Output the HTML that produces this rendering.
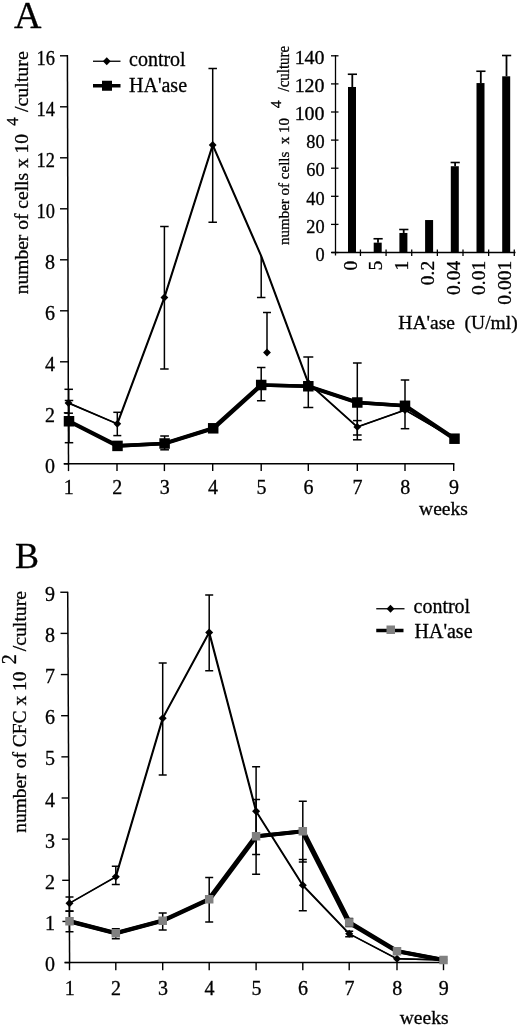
<!DOCTYPE html>
<html><head><meta charset="utf-8"><title>Figure</title>
<style>
html,body{margin:0;padding:0;background:#fff;}
svg{display:block;}
text{font-family:"Liberation Serif", "DejaVu Serif", serif;fill:#000;stroke:#000;stroke-width:0.3px;}
</style></head><body>
<svg width="520" height="1026" viewBox="0 0 520 1026">
<rect width="520" height="1026" fill="#fff"/>
<line x1="67.40" y1="55.10" x2="68.50" y2="464.40" stroke="#000" stroke-width="1.5"/>
<line x1="63.80" y1="463.80" x2="454.40" y2="463.80" stroke="#000" stroke-width="1.5"/>
<line x1="63.80" y1="463.80" x2="68.50" y2="463.80" stroke="#000" stroke-width="1.4"/>
<text x="54.90" y="472.50" font-size="20" text-anchor="end">0</text>
<line x1="63.80" y1="412.80" x2="68.36" y2="412.80" stroke="#000" stroke-width="1.4"/>
<text x="54.90" y="421.50" font-size="20" text-anchor="end">2</text>
<line x1="60.00" y1="361.80" x2="68.23" y2="361.80" stroke="#000" stroke-width="1.4"/>
<text x="54.90" y="370.50" font-size="20" text-anchor="end">4</text>
<line x1="60.00" y1="310.80" x2="68.09" y2="310.80" stroke="#000" stroke-width="1.4"/>
<text x="54.90" y="319.50" font-size="20" text-anchor="end">6</text>
<line x1="60.00" y1="259.80" x2="67.95" y2="259.80" stroke="#000" stroke-width="1.4"/>
<text x="54.90" y="268.50" font-size="20" text-anchor="end">8</text>
<line x1="60.00" y1="208.80" x2="67.81" y2="208.80" stroke="#000" stroke-width="1.4"/>
<text font-size="20" text-anchor="end" transform="translate(54.9 217.50) scale(0.92 1)">10</text>
<line x1="60.00" y1="157.80" x2="67.68" y2="157.80" stroke="#000" stroke-width="1.4"/>
<text font-size="20" text-anchor="end" transform="translate(54.9 166.50) scale(0.92 1)">12</text>
<line x1="60.00" y1="106.80" x2="67.54" y2="106.80" stroke="#000" stroke-width="1.4"/>
<text font-size="20" text-anchor="end" transform="translate(54.9 115.50) scale(0.92 1)">14</text>
<line x1="60.00" y1="55.80" x2="67.40" y2="55.80" stroke="#000" stroke-width="1.4"/>
<text font-size="20" text-anchor="end" transform="translate(54.9 64.50) scale(0.92 1)">16</text>
<line x1="68.50" y1="463.80" x2="68.50" y2="471.10" stroke="#000" stroke-width="1.4"/>
<text x="68.80" y="494.30" font-size="20" text-anchor="middle">1</text>
<line x1="117.00" y1="463.80" x2="117.00" y2="471.10" stroke="#000" stroke-width="1.4"/>
<text x="117.30" y="494.30" font-size="20" text-anchor="middle">2</text>
<line x1="164.40" y1="463.80" x2="164.40" y2="471.10" stroke="#000" stroke-width="1.4"/>
<text x="164.70" y="494.30" font-size="20" text-anchor="middle">3</text>
<line x1="212.70" y1="463.80" x2="212.70" y2="471.10" stroke="#000" stroke-width="1.4"/>
<text x="213.00" y="494.30" font-size="20" text-anchor="middle">4</text>
<line x1="261.20" y1="463.80" x2="261.20" y2="471.10" stroke="#000" stroke-width="1.4"/>
<text x="261.50" y="494.30" font-size="20" text-anchor="middle">5</text>
<line x1="308.30" y1="463.80" x2="308.30" y2="471.10" stroke="#000" stroke-width="1.4"/>
<text x="308.60" y="494.30" font-size="20" text-anchor="middle">6</text>
<line x1="357.30" y1="463.80" x2="357.30" y2="471.10" stroke="#000" stroke-width="1.4"/>
<text x="357.60" y="494.30" font-size="20" text-anchor="middle">7</text>
<line x1="405.00" y1="463.80" x2="405.00" y2="471.10" stroke="#000" stroke-width="1.4"/>
<text x="405.30" y="494.30" font-size="20" text-anchor="middle">8</text>
<line x1="453.70" y1="463.80" x2="453.70" y2="471.10" stroke="#000" stroke-width="1.4"/>
<text x="454.00" y="494.30" font-size="20" text-anchor="middle">9</text>
<text x="467.80" y="515.20" font-size="19.5" text-anchor="end">weeks</text>
<text x="14.00" y="28.00" font-size="38" text-anchor="start">A</text>
<text x="28.20" y="294.20" font-size="19.5" text-anchor="start" transform="rotate(-90 28.20 294.20)">number of cells x 10</text>
<text x="17.60" y="125.80" font-size="16.5" text-anchor="start" transform="rotate(-90 17.60 125.80)">4</text>
<text x="28.20" y="112.00" font-size="19.5" text-anchor="start" transform="rotate(-90 28.20 112.00)" textLength="60.8" lengthAdjust="spacingAndGlyphs">/culture</text>
<line x1="93.00" y1="61.25" x2="120.50" y2="61.25" stroke="#000" stroke-width="1.3"/>
<polygon points="102.85,61.25 106.75,57.35 110.65,61.25 106.75,65.15" fill="#000"/>
<line x1="93.00" y1="85.75" x2="120.50" y2="85.75" stroke="#000" stroke-width="3.5"/>
<rect x="102.00" y="80.75" width="10" height="10" fill="#000"/>
<text x="129.00" y="66.00" font-size="20" text-anchor="start">control</text>
<text x="129.00" y="91.50" font-size="20" text-anchor="start">HA'ase</text>
<line x1="68.70" y1="389.30" x2="68.70" y2="413.20" stroke="#000" stroke-width="1.5"/>
<line x1="64.45" y1="389.30" x2="72.95" y2="389.30" stroke="#000" stroke-width="1.5"/>
<line x1="64.45" y1="413.20" x2="72.95" y2="413.20" stroke="#000" stroke-width="1.5"/>
<line x1="117.30" y1="412.30" x2="117.30" y2="435.60" stroke="#000" stroke-width="1.5"/>
<line x1="113.30" y1="412.30" x2="121.30" y2="412.30" stroke="#000" stroke-width="1.5"/>
<line x1="113.30" y1="435.60" x2="121.30" y2="435.60" stroke="#000" stroke-width="1.5"/>
<line x1="164.40" y1="226.50" x2="164.40" y2="369.00" stroke="#000" stroke-width="1.5"/>
<line x1="160.15" y1="226.50" x2="168.65" y2="226.50" stroke="#000" stroke-width="1.5"/>
<line x1="160.15" y1="369.00" x2="168.65" y2="369.00" stroke="#000" stroke-width="1.5"/>
<line x1="212.70" y1="68.50" x2="212.70" y2="222.25" stroke="#000" stroke-width="1.5"/>
<line x1="208.45" y1="68.50" x2="216.95" y2="68.50" stroke="#000" stroke-width="1.5"/>
<line x1="208.45" y1="222.25" x2="216.95" y2="222.25" stroke="#000" stroke-width="1.5"/>
<line x1="261.20" y1="256.00" x2="261.20" y2="297.50" stroke="#000" stroke-width="1.5"/>
<line x1="256.95" y1="297.50" x2="265.45" y2="297.50" stroke="#000" stroke-width="1.5"/>
<line x1="357.30" y1="420.60" x2="357.30" y2="435.00" stroke="#000" stroke-width="1.5"/>
<line x1="352.95" y1="420.60" x2="361.65" y2="420.60" stroke="#000" stroke-width="1.5"/>
<line x1="352.95" y1="435.00" x2="361.65" y2="435.00" stroke="#000" stroke-width="1.5"/>
<line x1="267.00" y1="312.50" x2="267.00" y2="352.50" stroke="#000" stroke-width="1.5"/>
<line x1="263.00" y1="312.50" x2="271.00" y2="312.50" stroke="#000" stroke-width="1.5"/>
<line x1="69.00" y1="400.50" x2="69.00" y2="442.70" stroke="#000" stroke-width="1.5"/>
<line x1="64.75" y1="400.50" x2="73.25" y2="400.50" stroke="#000" stroke-width="1.5"/>
<line x1="64.75" y1="442.70" x2="73.25" y2="442.70" stroke="#000" stroke-width="1.5"/>
<line x1="164.60" y1="436.00" x2="164.60" y2="449.80" stroke="#000" stroke-width="1.5"/>
<line x1="160.25" y1="436.00" x2="168.95" y2="436.00" stroke="#000" stroke-width="1.5"/>
<line x1="160.25" y1="449.80" x2="168.95" y2="449.80" stroke="#000" stroke-width="1.5"/>
<line x1="261.20" y1="367.50" x2="261.20" y2="400.75" stroke="#000" stroke-width="1.5"/>
<line x1="256.95" y1="367.50" x2="265.45" y2="367.50" stroke="#000" stroke-width="1.5"/>
<line x1="256.95" y1="400.75" x2="265.45" y2="400.75" stroke="#000" stroke-width="1.5"/>
<line x1="308.30" y1="357.00" x2="308.30" y2="407.50" stroke="#000" stroke-width="1.5"/>
<line x1="303.30" y1="357.00" x2="313.30" y2="357.00" stroke="#000" stroke-width="1.5"/>
<line x1="303.30" y1="407.50" x2="313.30" y2="407.50" stroke="#000" stroke-width="1.5"/>
<line x1="357.30" y1="363.00" x2="357.30" y2="439.80" stroke="#000" stroke-width="1.5"/>
<line x1="352.95" y1="363.00" x2="361.65" y2="363.00" stroke="#000" stroke-width="1.5"/>
<line x1="352.95" y1="439.80" x2="361.65" y2="439.80" stroke="#000" stroke-width="1.5"/>
<line x1="405.00" y1="380.00" x2="405.00" y2="428.70" stroke="#000" stroke-width="1.5"/>
<line x1="400.75" y1="380.00" x2="409.25" y2="380.00" stroke="#000" stroke-width="1.5"/>
<line x1="400.75" y1="428.70" x2="409.25" y2="428.70" stroke="#000" stroke-width="1.5"/>
<polyline points="68.15,403.00 116.95,423.80 164.05,297.50 212.35,145.00 260.85,256.00 307.95,383.00 356.95,426.90 404.65,410.00 454.15,438.70" fill="none" stroke="#000" stroke-width="1.4" stroke-linejoin="miter"/>
<polyline points="68.85,403.00 117.65,423.80 164.75,297.50 213.05,145.00 261.55,256.00 308.65,383.00 357.65,426.90 405.35,410.00 454.85,438.70" fill="none" stroke="#000" stroke-width="1.4" stroke-linejoin="miter"/>
<polyline points="68.30,421.25 116.80,445.90 163.90,443.50 212.50,428.30 260.50,385.00 307.60,386.25 356.60,402.50 404.30,405.80 453.80,438.70" fill="none" stroke="#000" stroke-width="3.6" stroke-linejoin="miter"/>
<polyline points="69.70,421.25 118.20,445.90 165.30,443.50 213.90,428.30 261.90,385.00 309.00,386.25 358.00,402.50 405.70,405.80 455.20,438.70" fill="none" stroke="#000" stroke-width="3.6" stroke-linejoin="miter"/>
<polygon points="64.60,403.00 68.50,399.10 72.40,403.00 68.50,406.90" fill="#000"/>
<polygon points="113.40,423.80 117.30,419.90 121.20,423.80 117.30,427.70" fill="#000"/>
<polygon points="160.50,297.50 164.40,293.60 168.30,297.50 164.40,301.40" fill="#000"/>
<polygon points="208.80,145.00 212.70,141.10 216.60,145.00 212.70,148.90" fill="#000"/>
<polygon points="304.40,383.00 308.30,379.10 312.20,383.00 308.30,386.90" fill="#000"/>
<polygon points="353.40,426.90 357.30,423.00 361.20,426.90 357.30,430.80" fill="#000"/>
<polygon points="401.10,410.00 405.00,406.10 408.90,410.00 405.00,413.90" fill="#000"/>
<polygon points="450.60,438.70 454.50,434.80 458.40,438.70 454.50,442.60" fill="#000"/>
<polygon points="263.10,352.50 267.00,348.60 270.90,352.50 267.00,356.40" fill="#000"/>
<rect x="63.75" y="416.00" width="10.5" height="10.5" fill="#000"/>
<rect x="112.25" y="440.65" width="10.5" height="10.5" fill="#000"/>
<rect x="159.35" y="438.25" width="10.5" height="10.5" fill="#000"/>
<rect x="207.95" y="423.05" width="10.5" height="10.5" fill="#000"/>
<rect x="255.95" y="379.75" width="10.5" height="10.5" fill="#000"/>
<rect x="303.05" y="381.00" width="10.5" height="10.5" fill="#000"/>
<rect x="352.05" y="397.25" width="10.5" height="10.5" fill="#000"/>
<rect x="399.75" y="400.55" width="10.5" height="10.5" fill="#000"/>
<rect x="449.25" y="433.45" width="10.5" height="10.5" fill="#000"/>
<line x1="335.50" y1="55.00" x2="335.50" y2="255.50" stroke="#000" stroke-width="1.3"/>
<line x1="331.50" y1="252.50" x2="515.50" y2="252.50" stroke="#000" stroke-width="1.3"/>
<line x1="331.00" y1="252.50" x2="338.50" y2="252.50" stroke="#000" stroke-width="1.3"/>
<text font-size="18.5" text-anchor="end" transform="translate(324.6 260.70) scale(0.99 1)">0</text>
<line x1="331.00" y1="224.40" x2="338.50" y2="224.40" stroke="#000" stroke-width="1.3"/>
<text font-size="18.5" text-anchor="end" transform="translate(324.6 232.60) scale(0.99 1)">20</text>
<line x1="331.00" y1="196.30" x2="338.50" y2="196.30" stroke="#000" stroke-width="1.3"/>
<text font-size="18.5" text-anchor="end" transform="translate(324.6 204.50) scale(0.99 1)">40</text>
<line x1="331.00" y1="168.20" x2="338.50" y2="168.20" stroke="#000" stroke-width="1.3"/>
<text font-size="18.5" text-anchor="end" transform="translate(324.6 176.40) scale(0.99 1)">60</text>
<line x1="331.00" y1="140.10" x2="338.50" y2="140.10" stroke="#000" stroke-width="1.3"/>
<text font-size="18.5" text-anchor="end" transform="translate(324.6 148.30) scale(0.99 1)">80</text>
<line x1="331.00" y1="112.00" x2="338.50" y2="112.00" stroke="#000" stroke-width="1.3"/>
<text font-size="18.5" text-anchor="end" transform="translate(324.6 120.20) scale(1.08 1)">100</text>
<line x1="331.00" y1="83.90" x2="338.50" y2="83.90" stroke="#000" stroke-width="1.3"/>
<text font-size="18.5" text-anchor="end" transform="translate(324.6 92.10) scale(1.08 1)">120</text>
<line x1="331.00" y1="55.80" x2="338.50" y2="55.80" stroke="#000" stroke-width="1.3"/>
<text font-size="18.5" text-anchor="end" transform="translate(324.6 64.00) scale(1.08 1)">140</text>
<line x1="360.44" y1="249.50" x2="360.44" y2="256.00" stroke="#000" stroke-width="1.3"/>
<line x1="386.08" y1="249.50" x2="386.08" y2="256.00" stroke="#000" stroke-width="1.3"/>
<line x1="411.72" y1="249.50" x2="411.72" y2="256.00" stroke="#000" stroke-width="1.3"/>
<line x1="437.36" y1="249.50" x2="437.36" y2="256.00" stroke="#000" stroke-width="1.3"/>
<line x1="463.00" y1="249.50" x2="463.00" y2="256.00" stroke="#000" stroke-width="1.3"/>
<line x1="488.64" y1="249.50" x2="488.64" y2="256.00" stroke="#000" stroke-width="1.3"/>
<line x1="514.28" y1="249.50" x2="514.28" y2="256.00" stroke="#000" stroke-width="1.3"/>
<rect x="348.00" y="86.99" width="8" height="165.51" fill="#000"/>
<line x1="352.30" y1="74.25" x2="352.30" y2="86.99" stroke="#000" stroke-width="1.8"/>
<line x1="347.80" y1="74.25" x2="357.00" y2="74.25" stroke="#000" stroke-width="1.6"/>
<text x="356.80" y="260.80" font-size="19.5" text-anchor="end" transform="rotate(-90 356.80 260.80)">0</text>
<rect x="373.70" y="242.66" width="8" height="9.84" fill="#000"/>
<line x1="378.00" y1="238.75" x2="378.00" y2="242.66" stroke="#000" stroke-width="1.8"/>
<line x1="373.50" y1="238.75" x2="382.70" y2="238.75" stroke="#000" stroke-width="1.6"/>
<text x="382.50" y="260.80" font-size="19.5" text-anchor="end" transform="rotate(-90 382.50 260.80)">5</text>
<rect x="399.40" y="232.97" width="8" height="19.53" fill="#000"/>
<line x1="403.70" y1="229.50" x2="403.70" y2="232.97" stroke="#000" stroke-width="1.8"/>
<line x1="399.20" y1="229.50" x2="408.40" y2="229.50" stroke="#000" stroke-width="1.6"/>
<text x="408.20" y="260.80" font-size="19.5" text-anchor="end" transform="rotate(-90 408.20 260.80)">1</text>
<rect x="425.10" y="220.04" width="8" height="32.46" fill="#000"/>
<text x="433.90" y="260.80" font-size="19.5" text-anchor="end" transform="rotate(-90 433.90 260.80)">0.2</text>
<rect x="450.80" y="166.23" width="8" height="86.27" fill="#000"/>
<line x1="455.10" y1="162.50" x2="455.10" y2="166.23" stroke="#000" stroke-width="1.8"/>
<line x1="450.60" y1="162.50" x2="459.80" y2="162.50" stroke="#000" stroke-width="1.6"/>
<text x="459.60" y="260.80" font-size="19.5" text-anchor="end" transform="rotate(-90 459.60 260.80)">0.04</text>
<rect x="476.50" y="83.06" width="8" height="169.44" fill="#000"/>
<line x1="480.80" y1="71.25" x2="480.80" y2="83.06" stroke="#000" stroke-width="1.8"/>
<line x1="476.30" y1="71.25" x2="485.50" y2="71.25" stroke="#000" stroke-width="1.6"/>
<text x="485.30" y="260.80" font-size="19.5" text-anchor="end" transform="rotate(-90 485.30 260.80)">0.01</text>
<rect x="502.20" y="76.31" width="8" height="176.19" fill="#000"/>
<line x1="506.50" y1="55.50" x2="506.50" y2="76.31" stroke="#000" stroke-width="1.8"/>
<line x1="502.00" y1="55.50" x2="511.20" y2="55.50" stroke="#000" stroke-width="1.6"/>
<text x="511.00" y="260.80" font-size="19.5" text-anchor="end" transform="rotate(-90 511.00 260.80)">0.001</text>
<text x="398.30" y="328.60" font-size="19.5" text-anchor="start" xml:space="preserve">HA'ase  (U/ml)</text>
<text x="289.00" y="245.00" font-size="15" text-anchor="start" transform="rotate(-90 289.00 245.00)" xml:space="preserve">number of cells  x 10</text>
<text x="281.20" y="108.20" font-size="15.5" text-anchor="start" transform="rotate(-90 281.20 108.20)">4</text>
<text x="289.00" y="91.50" font-size="16" text-anchor="start" transform="rotate(-90 289.00 91.50)" textLength="45.7" lengthAdjust="spacingAndGlyphs">/culture</text>
<line x1="67.70" y1="591.70" x2="69.60" y2="963.20" stroke="#000" stroke-width="1.5"/>
<line x1="64.60" y1="962.60" x2="444.20" y2="962.60" stroke="#000" stroke-width="1.5"/>
<line x1="64.60" y1="962.60" x2="69.60" y2="962.60" stroke="#000" stroke-width="1.4"/>
<text x="54.90" y="971.20" font-size="20" text-anchor="end">0</text>
<line x1="62.44" y1="921.45" x2="69.39" y2="921.45" stroke="#000" stroke-width="1.4"/>
<text x="54.90" y="930.05" font-size="20" text-anchor="end">1</text>
<line x1="62.17" y1="880.30" x2="69.18" y2="880.30" stroke="#000" stroke-width="1.4"/>
<text x="54.90" y="888.90" font-size="20" text-anchor="end">2</text>
<line x1="61.90" y1="839.15" x2="68.97" y2="839.15" stroke="#000" stroke-width="1.4"/>
<text x="54.90" y="847.75" font-size="20" text-anchor="end">3</text>
<line x1="61.64" y1="798.00" x2="68.76" y2="798.00" stroke="#000" stroke-width="1.4"/>
<text x="54.90" y="806.60" font-size="20" text-anchor="end">4</text>
<line x1="61.37" y1="756.85" x2="68.54" y2="756.85" stroke="#000" stroke-width="1.4"/>
<text x="54.90" y="765.45" font-size="20" text-anchor="end">5</text>
<line x1="61.10" y1="715.70" x2="68.33" y2="715.70" stroke="#000" stroke-width="1.4"/>
<text x="54.90" y="724.30" font-size="20" text-anchor="end">6</text>
<line x1="60.83" y1="674.55" x2="68.12" y2="674.55" stroke="#000" stroke-width="1.4"/>
<text x="54.90" y="683.15" font-size="20" text-anchor="end">7</text>
<line x1="60.57" y1="633.40" x2="67.91" y2="633.40" stroke="#000" stroke-width="1.4"/>
<text x="54.90" y="642.00" font-size="20" text-anchor="end">8</text>
<line x1="60.30" y1="592.25" x2="67.70" y2="592.25" stroke="#000" stroke-width="1.4"/>
<text x="54.90" y="600.85" font-size="20" text-anchor="end">9</text>
<line x1="69.50" y1="962.60" x2="69.50" y2="970.20" stroke="#000" stroke-width="1.4"/>
<text x="69.80" y="995.40" font-size="20" text-anchor="middle">1</text>
<line x1="115.80" y1="962.60" x2="115.80" y2="970.20" stroke="#000" stroke-width="1.4"/>
<text x="116.10" y="995.40" font-size="20" text-anchor="middle">2</text>
<line x1="162.70" y1="962.60" x2="162.70" y2="970.20" stroke="#000" stroke-width="1.4"/>
<text x="163.00" y="995.40" font-size="20" text-anchor="middle">3</text>
<line x1="209.20" y1="962.60" x2="209.20" y2="970.20" stroke="#000" stroke-width="1.4"/>
<text x="209.50" y="995.40" font-size="20" text-anchor="middle">4</text>
<line x1="256.10" y1="962.60" x2="256.10" y2="970.20" stroke="#000" stroke-width="1.4"/>
<text x="256.40" y="995.40" font-size="20" text-anchor="middle">5</text>
<line x1="302.80" y1="962.60" x2="302.80" y2="970.20" stroke="#000" stroke-width="1.4"/>
<text x="303.10" y="995.40" font-size="20" text-anchor="middle">6</text>
<line x1="349.20" y1="962.60" x2="349.20" y2="970.20" stroke="#000" stroke-width="1.4"/>
<text x="349.50" y="995.40" font-size="20" text-anchor="middle">7</text>
<line x1="397.00" y1="962.60" x2="397.00" y2="970.20" stroke="#000" stroke-width="1.4"/>
<text x="397.30" y="995.40" font-size="20" text-anchor="middle">8</text>
<line x1="443.50" y1="962.60" x2="443.50" y2="970.20" stroke="#000" stroke-width="1.4"/>
<text x="443.80" y="995.40" font-size="20" text-anchor="middle">9</text>
<text x="448.50" y="1023.60" font-size="19.5" text-anchor="end">weeks</text>
<text x="15.00" y="567.50" font-size="36" text-anchor="start">B</text>
<text x="25.60" y="832.80" font-size="19.5" text-anchor="start" transform="rotate(-90 25.60 832.80)">number of CFC x 10</text>
<text x="15.60" y="664.30" font-size="20" text-anchor="start" transform="rotate(-90 15.60 664.30)">2</text>
<text x="25.60" y="651.30" font-size="19.5" text-anchor="start" transform="rotate(-90 25.60 651.30)" textLength="60.3" lengthAdjust="spacingAndGlyphs">/culture</text>
<line x1="376.25" y1="608.75" x2="404.50" y2="608.75" stroke="#000" stroke-width="1.3"/>
<polygon points="386.60,608.75 390.50,604.85 394.40,608.75 390.50,612.65" fill="#000"/>
<line x1="376.25" y1="630.50" x2="403.50" y2="630.50" stroke="#000" stroke-width="3.5"/>
<rect x="386.50" y="625.50" width="8.5" height="8.5" fill="#808080"/>
<text x="413.50" y="612.50" font-size="20" text-anchor="start">control</text>
<text x="414.50" y="637.50" font-size="20" text-anchor="start">HA'ase</text>
<line x1="69.50" y1="897.00" x2="69.50" y2="911.00" stroke="#000" stroke-width="1.5"/>
<line x1="65.50" y1="897.00" x2="73.50" y2="897.00" stroke="#000" stroke-width="1.5"/>
<line x1="65.50" y1="911.00" x2="73.50" y2="911.00" stroke="#000" stroke-width="1.5"/>
<line x1="115.80" y1="866.25" x2="115.80" y2="884.50" stroke="#000" stroke-width="1.5"/>
<line x1="111.80" y1="866.25" x2="119.80" y2="866.25" stroke="#000" stroke-width="1.5"/>
<line x1="111.80" y1="884.50" x2="119.80" y2="884.50" stroke="#000" stroke-width="1.5"/>
<line x1="162.70" y1="663.00" x2="162.70" y2="775.00" stroke="#000" stroke-width="1.5"/>
<line x1="158.70" y1="663.00" x2="166.70" y2="663.00" stroke="#000" stroke-width="1.5"/>
<line x1="158.70" y1="775.00" x2="166.70" y2="775.00" stroke="#000" stroke-width="1.5"/>
<line x1="209.20" y1="595.00" x2="209.20" y2="670.75" stroke="#000" stroke-width="1.5"/>
<line x1="205.20" y1="595.00" x2="213.20" y2="595.00" stroke="#000" stroke-width="1.5"/>
<line x1="205.20" y1="670.75" x2="213.20" y2="670.75" stroke="#000" stroke-width="1.5"/>
<line x1="256.10" y1="766.75" x2="256.10" y2="854.50" stroke="#000" stroke-width="1.5"/>
<line x1="252.10" y1="766.75" x2="260.10" y2="766.75" stroke="#000" stroke-width="1.5"/>
<line x1="252.10" y1="854.50" x2="260.10" y2="854.50" stroke="#000" stroke-width="1.5"/>
<line x1="302.80" y1="859.50" x2="302.80" y2="910.75" stroke="#000" stroke-width="1.5"/>
<line x1="298.80" y1="859.50" x2="306.80" y2="859.50" stroke="#000" stroke-width="1.5"/>
<line x1="298.80" y1="910.75" x2="306.80" y2="910.75" stroke="#000" stroke-width="1.5"/>
<line x1="349.20" y1="931.25" x2="349.20" y2="936.75" stroke="#000" stroke-width="1.5"/>
<line x1="345.20" y1="931.25" x2="353.20" y2="931.25" stroke="#000" stroke-width="1.5"/>
<line x1="345.20" y1="936.75" x2="353.20" y2="936.75" stroke="#000" stroke-width="1.5"/>
<line x1="69.50" y1="911.25" x2="69.50" y2="931.75" stroke="#000" stroke-width="1.5"/>
<line x1="65.50" y1="911.25" x2="73.50" y2="911.25" stroke="#000" stroke-width="1.5"/>
<line x1="65.50" y1="931.75" x2="73.50" y2="931.75" stroke="#000" stroke-width="1.5"/>
<line x1="115.80" y1="928.75" x2="115.80" y2="938.75" stroke="#000" stroke-width="1.5"/>
<line x1="111.80" y1="928.75" x2="119.80" y2="928.75" stroke="#000" stroke-width="1.5"/>
<line x1="111.80" y1="938.75" x2="119.80" y2="938.75" stroke="#000" stroke-width="1.5"/>
<line x1="162.70" y1="913.00" x2="162.70" y2="930.00" stroke="#000" stroke-width="1.5"/>
<line x1="158.70" y1="913.00" x2="166.70" y2="913.00" stroke="#000" stroke-width="1.5"/>
<line x1="158.70" y1="930.00" x2="166.70" y2="930.00" stroke="#000" stroke-width="1.5"/>
<line x1="209.20" y1="877.50" x2="209.20" y2="922.00" stroke="#000" stroke-width="1.5"/>
<line x1="205.20" y1="877.50" x2="213.20" y2="877.50" stroke="#000" stroke-width="1.5"/>
<line x1="205.20" y1="922.00" x2="213.20" y2="922.00" stroke="#000" stroke-width="1.5"/>
<line x1="256.10" y1="799.50" x2="256.10" y2="874.25" stroke="#000" stroke-width="1.5"/>
<line x1="252.10" y1="799.50" x2="260.10" y2="799.50" stroke="#000" stroke-width="1.5"/>
<line x1="252.10" y1="874.25" x2="260.10" y2="874.25" stroke="#000" stroke-width="1.5"/>
<line x1="302.80" y1="801.25" x2="302.80" y2="862.00" stroke="#000" stroke-width="1.5"/>
<line x1="298.80" y1="801.25" x2="306.80" y2="801.25" stroke="#000" stroke-width="1.5"/>
<line x1="298.80" y1="862.00" x2="306.80" y2="862.00" stroke="#000" stroke-width="1.5"/>
<line x1="349.20" y1="918.50" x2="349.20" y2="926.50" stroke="#000" stroke-width="1.5"/>
<line x1="345.20" y1="918.50" x2="353.20" y2="918.50" stroke="#000" stroke-width="1.5"/>
<line x1="345.20" y1="926.50" x2="353.20" y2="926.50" stroke="#000" stroke-width="1.5"/>
<polyline points="69.15,903.25 115.45,876.75 162.35,718.25 208.85,632.50 255.75,811.25 302.45,885.25 348.85,933.75 396.65,958.75 443.15,960.00" fill="none" stroke="#000" stroke-width="1.4" stroke-linejoin="miter"/>
<polyline points="69.85,903.25 116.15,876.75 163.05,718.25 209.55,632.50 256.45,811.25 303.15,885.25 349.55,933.75 397.35,958.75 443.85,960.00" fill="none" stroke="#000" stroke-width="1.4" stroke-linejoin="miter"/>
<polyline points="68.80,921.25 115.10,933.25 162.00,920.75 208.50,899.25 255.40,836.25 302.10,831.25 348.50,922.50 396.30,951.25 442.80,960.00" fill="none" stroke="#000" stroke-width="3.9" stroke-linejoin="miter"/>
<polyline points="70.20,921.25 116.50,933.25 163.40,920.75 209.90,899.25 256.80,836.25 303.50,831.25 349.90,922.50 397.70,951.25 444.20,960.00" fill="none" stroke="#000" stroke-width="3.9" stroke-linejoin="miter"/>
<polygon points="65.50,903.25 69.50,899.25 73.50,903.25 69.50,907.25" fill="#000"/>
<polygon points="111.80,876.75 115.80,872.75 119.80,876.75 115.80,880.75" fill="#000"/>
<polygon points="158.70,718.25 162.70,714.25 166.70,718.25 162.70,722.25" fill="#000"/>
<polygon points="205.20,632.50 209.20,628.50 213.20,632.50 209.20,636.50" fill="#000"/>
<polygon points="252.10,811.25 256.10,807.25 260.10,811.25 256.10,815.25" fill="#000"/>
<polygon points="298.80,885.25 302.80,881.25 306.80,885.25 302.80,889.25" fill="#000"/>
<polygon points="345.20,933.75 349.20,929.75 353.20,933.75 349.20,937.75" fill="#000"/>
<polygon points="393.00,958.75 397.00,954.75 401.00,958.75 397.00,962.75" fill="#000"/>
<polygon points="439.50,960.00 443.50,956.00 447.50,960.00 443.50,964.00" fill="#000"/>
<rect x="65.25" y="917.00" width="8.5" height="8.5" fill="#808080"/>
<rect x="111.55" y="929.00" width="8.5" height="8.5" fill="#808080"/>
<rect x="158.45" y="916.50" width="8.5" height="8.5" fill="#808080"/>
<rect x="204.95" y="895.00" width="8.5" height="8.5" fill="#808080"/>
<rect x="251.85" y="832.00" width="8.5" height="8.5" fill="#808080"/>
<rect x="298.55" y="827.00" width="8.5" height="8.5" fill="#808080"/>
<rect x="344.95" y="918.25" width="8.5" height="8.5" fill="#808080"/>
<rect x="392.75" y="947.00" width="8.5" height="8.5" fill="#808080"/>
<rect x="439.25" y="955.75" width="8.5" height="8.5" fill="#808080"/>
</svg>
</body></html>
